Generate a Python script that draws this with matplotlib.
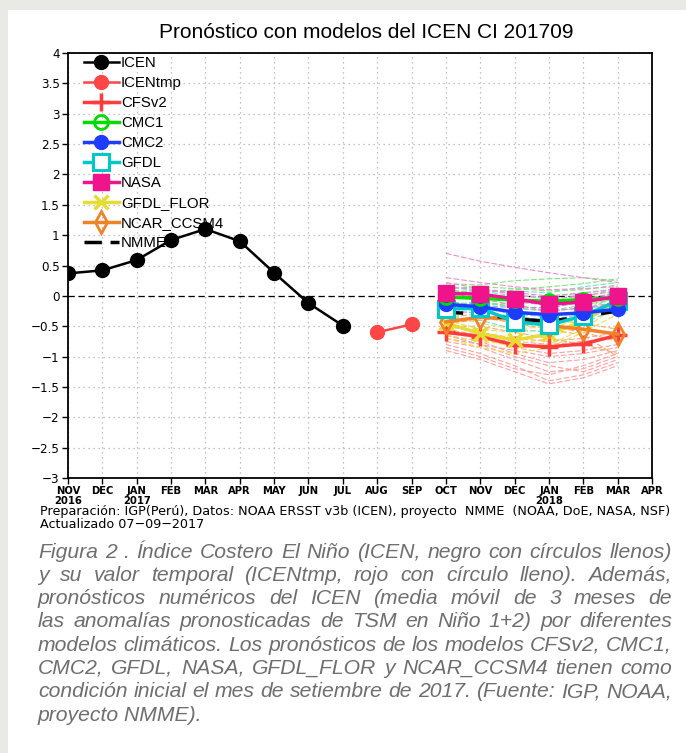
import matplotlib
matplotlib.use("Agg")
import matplotlib.pyplot as plt
from matplotlib.patches import Rectangle

# ---------------- data ----------------
months = ["NOV", "DEC", "JAN", "FEB", "MAR", "APR", "MAY", "JUN", "JUL",
          "AUG", "SEP", "OCT", "NOV", "DEC", "JAN", "FEB", "MAR", "APR"]
years = {0: "2016", 2: "2017", 14: "2018"}

icen_x = [0, 1, 2, 3, 4, 5, 6, 7, 8]
icen = [0.37, 0.42, 0.59, 0.92, 1.10, 0.90, 0.38, -0.12, -0.49]
icentmp_x = [9, 10]
icentmp = [-0.60, -0.47]

fc_x = [11, 12, 13, 14, 15, 16]
cfsv2 = [-0.60, -0.67, -0.81, -0.84, -0.79, -0.65]
cmc1 = [-0.02, -0.04, -0.07, -0.09, -0.06, -0.03]
cmc2 = [-0.14, -0.18, -0.27, -0.31, -0.28, -0.22]
gfdl = [-0.22, -0.20, -0.43, -0.48, -0.33, -0.08]
nasa = [0.04, 0.03, -0.05, -0.14, -0.10, -0.01]
gfdl_flor = [-0.45, -0.62, -0.73, -0.63, -0.42, -0.08]
ncar = [-0.43, -0.35, -0.39, -0.49, -0.55, -0.63]
nmme = [-0.27, -0.30, -0.38, -0.42, -0.34, -0.25]

members_nasa = [
    [0.70, 0.57, 0.47, 0.38, 0.30, 0.22],
    [0.30, 0.22, 0.15, 0.10, 0.12, 0.15],
    [0.15, 0.10, 0.05, 0.00, 0.05, 0.10],
    [-0.05, 0.00, -0.10, -0.15, -0.05, 0.05],
    [0.05, -0.05, -0.15, -0.25, -0.20, -0.10],
    [0.22, 0.12, 0.02, -0.05, 0.00, 0.08],
]
members_cmc1 = [
    [0.20, 0.18, 0.25, 0.28, 0.30, 0.25],
    [0.10, 0.05, 0.10, 0.15, 0.20, 0.28],
    [-0.10, -0.15, -0.12, -0.05, 0.00, 0.10],
    [0.00, -0.08, -0.20, -0.25, -0.15, -0.05],
    [0.12, 0.15, 0.12, 0.08, 0.10, 0.18],
]
members_cmc2 = [
    [-0.10, -0.15, -0.20, -0.25, -0.20, -0.15],
    [-0.25, -0.28, -0.35, -0.40, -0.35, -0.25],
    [-0.15, -0.10, -0.18, -0.20, -0.10, 0.05],
    [0.05, 0.02, -0.05, -0.10, -0.05, 0.00],
]
members_gfdl = [
    [0.05, 0.10, 0.08, 0.05, 0.15, 0.22],
    [-0.20, -0.25, -0.35, -0.40, -0.30, -0.10],
    [-0.35, -0.40, -0.55, -0.60, -0.45, -0.20],
    [-0.10, -0.20, -0.30, -0.35, -0.25, 0.00],
    [0.15, 0.08, 0.00, -0.02, 0.05, 0.12],
]
members_flor = [
    [-0.40, -0.55, -0.60, -0.55, -0.35, -0.05],
    [-0.55, -0.70, -0.85, -0.80, -0.55, -0.15],
    [-0.65, -0.75, -0.80, -0.70, -0.45, 0.10],
    [-0.30, -0.45, -0.55, -0.50, -0.30, 0.15],
    [-0.70, -0.85, -0.95, -0.85, -0.60, -0.30],
]
members_ncar = [
    [-0.35, -0.30, -0.40, -0.50, -0.60, -0.75],
    [-0.50, -0.50, -0.60, -0.70, -0.80, -0.95],
    [-0.40, -0.35, -0.45, -0.55, -0.65, -1.00],
    [-0.45, -0.40, -0.35, -0.40, -0.45, -0.55],
]
members_cfsv2 = [
    [-0.55, -0.65, -0.85, -0.95, -0.90, -0.80],
    [-0.65, -0.75, -0.95, -1.10, -1.05, -0.90],
    [-0.75, -0.85, -1.05, -1.25, -1.20, -1.00],
    [-0.80, -0.95, -1.15, -1.40, -1.30, -1.10],
    [-0.70, -0.80, -0.90, -1.00, -0.95, -0.85],
    [-0.60, -0.70, -0.75, -0.80, -0.75, -0.70],
    [-0.85, -1.00, -1.20, -1.30, -1.15, -0.95],
    [-0.50, -0.60, -0.70, -0.75, -0.70, -0.60],
    [-0.90, -1.05, -1.25, -1.45, -1.35, -1.15],
    [-0.65, -0.80, -1.00, -1.15, -1.25, -1.05],
]

yticks = [4, 3.5, 3, 2.5, 2, 1.5, 1, 0.5, 0, -0.5, -1, -1.5, -2, -2.5, -3]
ytick_labels = ["4", "3.5", "3", "2.5", "2", "1.5", "1", "0.5", "0",
                "\u22120.5", "\u22121", "\u22121.5", "\u22122", "\u22122.5", "\u22123"]

title = "Pronóstico con modelos del ICEN CI 201709"
footer1 = "Preparación: IGP(Perú), Datos: NOAA ERSST v3b (ICEN), proyecto  NMME  (NOAA, DoE, NASA, NSF)"
footer2 = "Actualizado 07\u221209\u22122017"
caption = [
    "Figura 2 . Índice Costero El Niño (ICEN, negro con círculos llenos)",
    "y su valor temporal (ICENtmp, rojo con círculo lleno). Además,",
    "pronósticos numéricos del ICEN (media móvil de 3 meses de",
    "las anomalías pronosticadas de TSM en Niño 1+2) por diferentes",
    "modelos climáticos. Los pronósticos de los modelos CFSv2, CMC1,",
    "CMC2, GFDL, NASA, GFDL_FLOR y NCAR_CCSM4 tienen como",
    "condición inicial el mes de setiembre de 2017. (Fuente: IGP, NOAA,",
    "proyecto NMME).",
]

# ---------------- figure ----------------
W, H = 686, 753
fig = plt.figure(figsize=(W / 100, H / 100), dpi=100)
fig.patch.set_facecolor("#e9e9e6")
fig.add_artist(Rectangle((8 / W, 0), 1 - 8 / W, 1 - 10 / H, transform=fig.transFigure,
                         facecolor="white", edgecolor="none", zorder=0))

L, R, T, B = 68, 652, 53, 478
ax = fig.add_axes([L / W, 1 - B / H, (R - L) / W, (B - T) / H])
ax.set_xlim(0, 17)
ax.set_ylim(-3, 4)

# grid
for xv in range(18):
    ax.axvline(xv, color="#b0b0b0", lw=0.9, ls=(0, (1, 3)), zorder=1)
for yv in yticks:
    ax.axhline(yv, color="#b0b0b0", lw=0.9, ls=(0, (1, 3)), zorder=1)
ax.axhline(0, color="black", lw=0.9, ls=(0, (5, 3)), zorder=2)

# ensemble members
def draw_members(members, color):
    for m in members:
        ax.plot(fc_x, m, color=color, lw=0.8, ls=(0, (5, 2)), zorder=3)

draw_members(members_cfsv2, "#ffa0a0")
draw_members(members_ncar, "#f5aa6e")
draw_members(members_flor, "#ebe050")
draw_members(members_gfdl, "#6ee1e1")
draw_members(members_cmc2, "#82a0ff")
draw_members(members_cmc1, "#7de67d")
draw_members(members_nasa, "#f08cc8")

# main series
ax.plot(icen_x, icen, color="black", lw=1.8, marker="o", ms=10, mfc="black",
        mec="black", zorder=6, label="ICEN")
ax.plot(icentmp_x, icentmp, color="#ff4646", lw=1.8, marker="o", ms=10, mfc="#ff4646",
        mec="#ff4646", zorder=6, label="ICENtmp")
ax.plot(fc_x, cfsv2, color="#ff3c3c", lw=2.5, marker="+", ms=13, mew=2.5, zorder=5, label="CFSv2")
ax.plot(fc_x, gfdl_flor, color="#e6dc32", lw=2.5, marker="x", ms=10, mew=2.5, zorder=5, label="GFDL_FLOR")
ax.plot(fc_x, ncar, color="#f08228", lw=2.5, marker="d", ms=11, mfc="none", mew=2, zorder=5,
        label="NCAR_CCSM4")
ax.plot(fc_x, nmme, color="black", lw=2.5, ls=(0, (5, 2.5)), zorder=5, label="NMME")
ax.plot(fc_x, gfdl, color="#00c8c8", lw=2.5, marker="s", ms=11, mfc="white", mew=2.2, zorder=5,
        label="GFDL")
ax.plot(fc_x, cmc2, color="#1e3cff", lw=2.5, marker="o", ms=10, mfc="#1e3cff", zorder=5,
        label="CMC2")
ax.plot(fc_x, cmc1, color="#00dc00", lw=2.5, marker="o", ms=10, mfc="none", mew=2, zorder=5,
        label="CMC1")
ax.plot(fc_x, nasa, color="#f0148c", lw=2.5, marker="s", ms=11, mfc="#f0148c", zorder=7,
        label="NASA")

# legend in reference order
order = ["ICEN", "ICENtmp", "CFSv2", "CMC1", "CMC2", "GFDL", "NASA", "GFDL_FLOR", "NCAR_CCSM4", "NMME"]
handles, labels = ax.get_legend_handles_labels()
hmap = dict(zip(labels, handles))
leg = ax.legend([hmap[k] for k in order], order, loc="upper left",
                bbox_to_anchor=((84 - L) / (R - L), 0.993), borderaxespad=0, borderpad=0,
                frameon=False, handlelength=2.3, handletextpad=0.15, labelspacing=0.40,
                prop={"family": "Liberation Sans", "size": 10.8})
leg.set_zorder(10)

# ticks
ax.set_yticks(yticks)
ax.set_yticklabels(ytick_labels, fontsize=9.5, family="DejaVu Sans", stretch="condensed")
xl = []
for i, m in enumerate(months):
    xl.append(m + ("\n" + years[i] if i in years else ""))
ax.set_xticks(range(18))
ax.set_xticklabels(xl, fontsize=8, fontweight="bold", family="DejaVu Sans", stretch="condensed",
                   linespacing=0.95)
ax.tick_params(axis="both", length=4, width=1, direction="out", pad=2)
for s in ax.spines.values():
    s.set_linewidth(1.3)
    s.set_linestyle((0, (4, 1)))

# title and footers
fig.text(366 / W, 1 - 33 / H, title, ha="center", va="center", fontsize=15,
         family="Liberation Sans")
fig.text(40 / W, 1 - 512 / H, footer1, ha="left", va="center", fontsize=9.2,
         family="DejaVu Sans")
fig.text(40 / W, 1 - 525 / H, footer2, ha="left", va="center", fontsize=9.2,
         family="DejaVu Sans")

# justified italic caption
renderer = fig.canvas.get_renderer()
x_left, x_right = 38, 672
y0, dy = 552, 23.3
cap_kw = dict(fontsize=15.2, style="italic", family="Liberation Sans", color="#6e6e6e",
              va="center", ha="left")
for li, line in enumerate(caption):
    y = 1 - (y0 + li * dy) / H
    words = line.split(" ")
    if li == len(caption) - 1:
        fig.text(x_left / W, y, line, **cap_kw)
        continue
    txts = [fig.text(0, y, w, **cap_kw) for w in words]
    widths = [t.get_window_extent(renderer).width for t in txts]
    gap = (x_right - x_left - sum(widths)) / (len(words) - 1)
    xc = x_left
    for t, wdt in zip(txts, widths):
        t.set_x(xc / W)
        xc += wdt + gap

fig.savefig("out.png", dpi=100)
